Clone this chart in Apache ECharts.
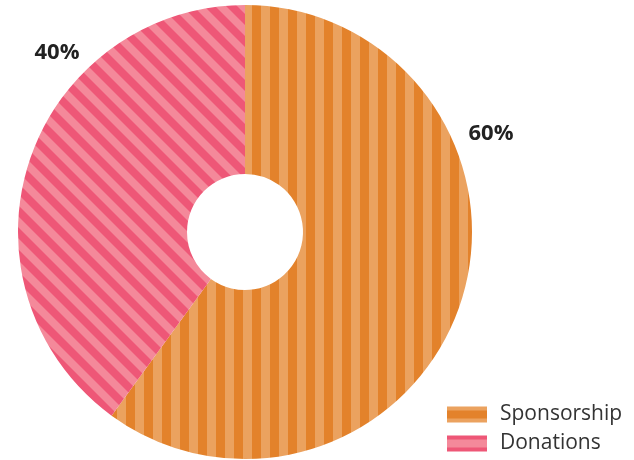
<!DOCTYPE html>
<html><head><meta charset="utf-8">
<script src="https://cdn.jsdelivr.net/npm/echarts@6/dist/echarts.min.js"></script>
<style>html,body{margin:0;padding:0;background:#fff}#c{width:634px;height:460px}</style>
</head><body><div id="c"></div>
<script>
const categories = ['Sponsorship', 'Donations'];
const values = [60, 40];
const labels = ['60%', '40%'];

function stripePattern(kind, dark, light, period) {
  const c = document.createElement('canvas');
  c.width = period; c.height = period;
  const ctx = c.getContext('2d');
  ctx.fillStyle = light; ctx.fillRect(0, 0, period, period);
  ctx.fillStyle = dark;
  if (kind === 'v') {
    ctx.fillRect(0, 0, period / 2, period);
  } else if (kind === 'h') {
    ctx.fillRect(0, period / 4, period, period / 2);
  } else {
    for (let k = -2; k <= 2; k++) {
      const o = k * period;
      ctx.beginPath();
      ctx.moveTo(o, 0);
      ctx.lineTo(o + period / 2, 0);
      ctx.lineTo(o + period / 2 + period, period);
      ctx.lineTo(o + period, period);
      ctx.closePath();
      ctx.fill();
    }
  }
  return { image: c, repeat: 'repeat' };
}

const orangeV = stripePattern('v', '#E3822B', '#EBA25F', 18);
const pinkD = stripePattern('d', '#EE5777', '#F4899A', 22);
const orangeH = stripePattern('h', '#E3822B', '#EBA25F', 16);
const pinkH = stripePattern('h', '#F4899A', '#EE5777', 16);
const fills = [orangeV, pinkD];
const legendFills = [orangeH, pinkH];

const chart = echarts.init(document.getElementById('c'), null, { renderer: 'canvas' });
chart.setOption({
  animation: false,
  legend: {
    orient: 'vertical',
    left: 447, bottom: 6, padding: 0,
    itemWidth: 40, itemHeight: 16, itemGap: 8,
    icon: 'rect',
    textStyle: { fontFamily: 'Open Sans', fontSize: 21, color: '#333', padding: [0, 0, 0, 8] },
    data: categories.map((n, i) => ({ name: n, itemStyle: { color: legendFills[i] } }))
  },
  series: [{
    type: 'pie',
    center: [245, 232],
    radius: [58, 227],
    startAngle: 90,
    clockwise: true,
    data: categories.map((n, i) => ({ name: n, value: values[i], itemStyle: { color: fills[i] } })),
    label: {
      show: true,
      position: 'inside',
      formatter: p => labels[p.dataIndex],
      fontFamily: 'Open Sans', fontWeight: 'bold', fontSize: 22, color: '#222'
    },
    labelLine: { show: false },
    labelLayout: p => p.dataIndex === 0
      ? { x: 491, y: 134, align: 'center', verticalAlign: 'middle' }
      : { x: 57, y: 53, align: 'center', verticalAlign: 'middle' },
    emphasis: { disabled: true }
  }]
});
</script></body></html>
